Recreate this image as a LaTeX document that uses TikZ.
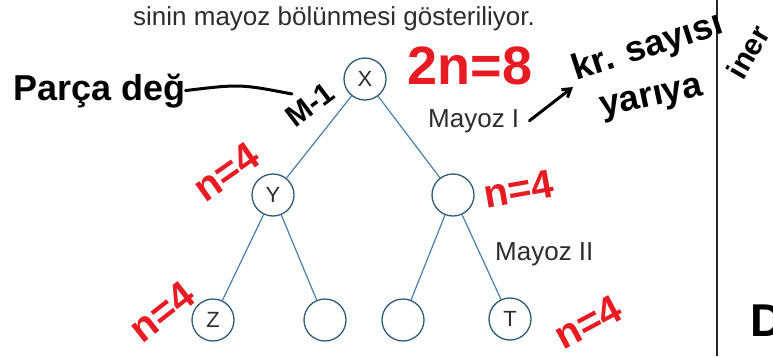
\documentclass[tikz,border=0pt]{standalone}
\usepackage{fontspec}
\setmainfont{Liberation Sans}
\usetikzlibrary{arrows.meta}
\definecolor{edgeblue}{RGB}{70,128,176}
\definecolor{ringblue}{RGB}{45,92,122}
\definecolor{inkred}{RGB}{232,26,34}
\definecolor{printgray}{RGB}{45,45,45}
\newcommand\fsz[1]{\fontsize{#1}{#1}\selectfont}

\begin{document}
\begin{tikzpicture}[x=1pt,y=-1pt,
  cell/.style={circle,draw=ringblue,line width=1.3pt,minimum size=42pt,inner sep=0pt,
               font=\fsz{22},text=printgray},
  link/.style={draw=edgeblue,line width=1.2pt},
  printed/.style={font=\fsz{26},text=printgray,inner sep=0pt},
  redink/.style={font=\bfseries\fsz{40},text=inkred,inner sep=0pt},
  blackink/.style={font=\bfseries\fsz{36},text=black,inner sep=0pt},
  pen/.style={line width=3pt,line cap=round,line join=round}]
\useasboundingbox (0,0) rectangle (773,356);
\fill[white] (0,0) rectangle (773,356);

% printed caption line
\node[printed,anchor=base west] (head) at (133,25) {sinin mayoz bölünmesi gösteriliyor.};

% column rule
\coordinate (ruletop) at (717,0);
\coordinate (rulebot) at (717,356);
\draw[line width=1.4pt,black!85] (ruletop) -- (rulebot);

% meiosis tree
\node[cell] (X) at (365,79) {X};
\node[cell] (Y) at (273,195) {Y};
\node[cell] (R) at (453,195) {};
\node[cell] (Z) at (213,320) {Z};
\node[cell] (B2) at (325,320) {};
\node[cell] (B3) at (403,320) {};
\node[cell] (T) at (510,319) {T};
\draw[link] (X) -- (Y);
\draw[link] (X) -- (R);
\draw[link] (Y) -- (Z);
\draw[link] (Y) -- (B2);
\draw[link] (R) -- (B3);
\draw[link] (R) -- (T);

\node[printed,anchor=base west] (mI) at (428,127) {Mayoz I};
\node[printed,anchor=base west] (mII) at (495,260) {Mayoz II};

% handwritten notes
\node[blackink,anchor=base west] (parca) at (13,100) {Parça değ};
\node[blackink,font=\bfseries\fsz{30},rotate=37] (m1) at (310,105) {M-1};
\coordinate (dtail) at (292,94);
\draw[pen] (parca.east) .. controls (240,84) .. (dtail);

\node[redink,font=\bfseries\fsz{54}] (twon) at (470,66) {2n=8};

\node[blackink,rotate=18] (kr) at (648,48) {kr. sayısı};
\node[blackink,rotate=12] (yar) at (652,100) {yarıya};
\node[blackink,font=\bfseries\fsz{30},rotate=60] (iner) at (748,52) {iner};
\coordinate (krtip) at (573,87);
\draw[pen,-{Straight Barb[length=8pt,width=10pt]}] ([xshift=10pt]mI.east) -- (krtip);

\node[redink,rotate=35] (nY) at (226,172) {n=4};
\node[redink,rotate=10] (nR) at (519,189) {n=4};
\node[redink,rotate=38] (nZ) at (162,312) {n=4};
\node[redink,rotate=28] (nT) at (588,322) {n=4};

\node[blackink,font=\bfseries\fsz{46},anchor=west] (dee) at (750,321) {D};
\end{tikzpicture}
\end{document}
